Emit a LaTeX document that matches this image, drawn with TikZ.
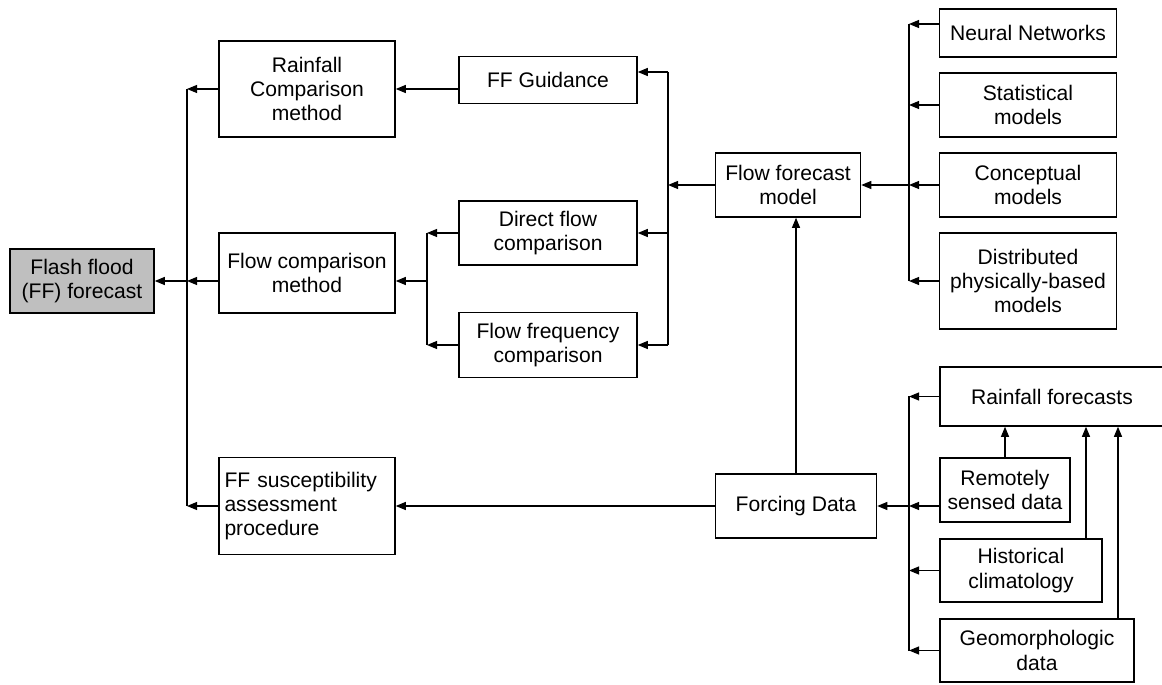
\documentclass[tikz,border=0pt]{standalone}
\usepackage{fontspec}
\setmainfont{Liberation Sans}
\usetikzlibrary{positioning,calc,arrows.meta}

\tikzset{
  blk/.style={draw,line width=0.9pt,inner sep=0pt,align=center,
    font=\fontsize{12}{13.8}\selectfont},
  arr/.style={-{Triangle[length=2mm,width=1.6mm]},line width=0.6pt},
  bus/.style={line width=0.9pt},
}

\begin{document}
\begin{tikzpicture}[x=0.02cm,y=-0.02cm]
    \useasboundingbox (0,0) rectangle (1162,685);

    % Left column
    \node[blk,fill=black!25,minimum width=2.88cm,minimum height=1.28cm] (ffc) at (82,281) {Flash flood\\(FF) forecast};
    \node[blk,minimum width=3.52cm,minimum height=1.92cm] (rcm) at (307,89) {Rainfall\\Comparison\\method};
    \node[blk,minimum width=3.52cm,minimum height=1.6cm] (fcm) at (307,273) {Flow comparison\\method};
    \node[blk,minimum width=3.52cm,minimum height=1.94cm,text width=3.3cm,align=left] (ffsa) at (307,506) {FF susceptibility\\assessment\\procedure};

    % Middle column
    \node[blk,minimum width=3.56cm,minimum height=0.94cm] (ffg) at (548,80) {FF Guidance};
    \node[blk,minimum width=3.56cm,minimum height=1.28cm] (dfc) at (548,233) {Direct flow\\comparison};
    \node[blk,minimum width=3.56cm,minimum height=1.3cm] (ffq) at (548,345) {Flow frequency\\comparison};

    \node[blk,minimum width=2.9cm,minimum height=1.28cm] (ffm) at (788,185) {Flow forecast\\model};
    \node[blk,minimum width=3.22cm,minimum height=1.28cm] (fd) at (796,506) {Forcing Data};

    % Model types
    \node[blk,minimum width=3.54cm,minimum height=0.96cm] (nn) at (1028,33) {Neural Networks};
    \node[blk,minimum width=3.54cm,minimum height=1.28cm] (sm) at (1028,105) {Statistical\\models};
    \node[blk,minimum width=3.54cm,minimum height=1.28cm] (cm) at (1028,185) {Conceptual\\models};
    \node[blk,minimum width=3.54cm,minimum height=1.92cm] (dpm) at (1028,281) {Distributed\\physically-based\\models};

    % Data sources
    \node[blk,minimum width=4.48cm,minimum height=1.18cm] (rf) at (1052,396.5) {Rainfall forecasts};
    \node[blk,minimum width=2.6cm,minimum height=1.28cm] (rsd) at (1005,490) {Remotely\\sensed data};
    \node[blk,minimum width=3.24cm,minimum height=1.26cm] (hc) at (1021,570.5) {Historical\\climatology};
    \node[blk,minimum width=3.88cm,minimum height=1.26cm] (gd) at (1037,650.5) {Geomorphologic\\data};

    % bus lines
    \coordinate (busL) at (187,0);
    \coordinate (busM) at (427,0);
    \coordinate (busR) at (668,0);
    \coordinate (busX) at (909,0);

    % into the forecast
    \draw[bus] (busL |- rcm.west) -- (busL |- ffsa.west);
    \draw[arr] (rcm.west) -- (busL |- rcm.west);
    \draw[arr] (fcm.west |- ffc.east) -- (busL |- ffc.east);
    \draw[arr] (ffsa.west) -- (busL |- ffsa.west);
    \draw[arr] (busL |- ffc.east) -- (ffc.east);

    % comparison methods
    \draw[arr] (ffg.west |- rcm.east) -- (rcm.east);
    \draw[bus] (busM |- dfc.west) -- (busM |- ffq.west);
    \draw[arr] (dfc.west) -- (busM |- dfc.west);
    \draw[arr] (ffq.west) -- (busM |- ffq.west);
    \draw[arr] (busM |- ffc.east) -- (fcm.east |- ffc.east);

    % flow forecast model outputs
    \coordinate (ffgin) at ([yshift=0.16cm]ffg.east);
    \draw[bus] (busR |- ffgin) -- (busR |- ffq.east);
    \draw[arr] (busR |- ffgin) -- (ffgin);
    \draw[arr] (busR |- dfc.east) -- (dfc.east);
    \draw[arr] (busR |- ffq.east) -- (ffq.east);
    \draw[arr] (ffm.west) -- (busR |- ffm.west);

    % model types
    \coordinate (nnout) at ([yshift=0.18cm]nn.west);
    \draw[bus] (busX |- nnout) -- (busX |- dpm.west);
    \draw[arr] (nnout) -- (busX |- nnout);
    \draw[arr] (sm.west) -- (busX |- sm.west);
    \draw[arr] (cm.west) -- (busX |- cm.west);
    \draw[arr] (dpm.west) -- (busX |- dpm.west);
    \draw[arr] (busX |- ffm.east) -- (ffm.east);

    % forcing data
    \draw[arr] (fd.north) -- (fd.north |- ffm.south);
    \draw[arr] (fd.west) -- (ffsa.east |- fd.west);
    \draw[bus] (busX |- rf.west) -- (busX |- gd.west);
    \draw[arr] (rf.west) -- (busX |- rf.west);
    \draw[arr] (rsd.west |- fd.east) -- (busX |- fd.east);
    \draw[arr] (hc.west) -- (busX |- hc.west);
    \draw[arr] (gd.west) -- (busX |- gd.west);
    \draw[arr] (busX |- fd.east) -- (fd.east);

    % into rainfall forecasts
    \coordinate (hcup) at ([xshift=1.3cm]hc.north);
    \coordinate (gdup) at ([xshift=1.62cm]gd.north);
    \draw[arr] (rsd.north) -- (rsd.north |- rf.south);
    \draw[arr] (hcup) -- (hcup |- rf.south);
    \draw[arr] (gdup) -- (gdup |- rf.south);
\end{tikzpicture}
\end{document}
